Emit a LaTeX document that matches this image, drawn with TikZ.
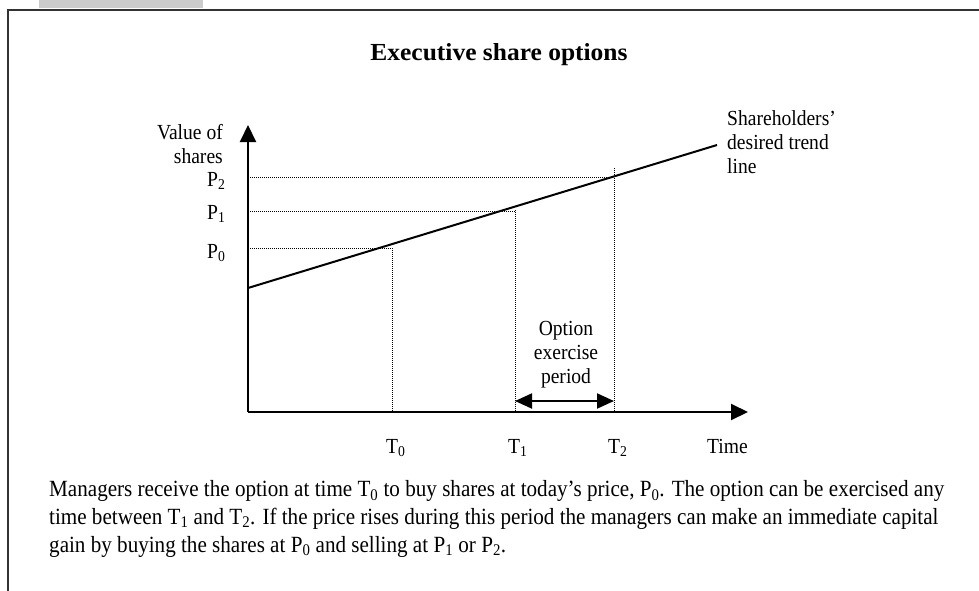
\documentclass[tikz,border=0pt]{standalone}
\usepackage{fontspec}
\setmainfont{Liberation Serif}[FakeStretch=0.91]
\newfontfamily\titlefont{Liberation Serif}[FakeStretch=1.04]
\usetikzlibrary{arrows.meta}
\begin{document}
\begin{tikzpicture}[x=1pt,y=-1pt,
  lbl/.style={inner sep=0pt, font=\fontsize{21.5}{24}\selectfont},
  axisline/.style={line width=2pt, -{Triangle[length=17pt,width=16pt]}},
  guide/.style={line width=0.8pt, dash pattern=on 0.8pt off 1.2pt},
  trendline/.style={line width=2pt},
  periodarrow/.style={line width=2pt, {Triangle[length=17pt,width=15pt]}-{Triangle[length=17pt,width=15pt]}},
  framerule/.style={line width=2pt, black!80}]

\useasboundingbox (0,0) rectangle (979,591);

% tab and frame
\fill[black!20] (39,0) rectangle (203,8.5);
\draw[framerule] (8,591) -- (8,10) -- (979,10);

% title
\node[inner sep=0pt, anchor=base, font=\titlefont\fontsize{24.5}{28}\selectfont\bfseries] (title) at (499,61) {Executive share options};

% key points
\coordinate (O) at (248,412);
\coordinate (yend) at (248,125);
\coordinate (xend) at (748,412);
\coordinate (tstart) at (248,288);
\coordinate (tend) at (717,145);

\coordinate (p0y) at (248,248);
\coordinate (p0c) at (392,248);
\coordinate (t0x) at (392,412);
\coordinate (p1y) at (248,211);
\coordinate (p1c) at (515,211);
\coordinate (t1top) at (515,210);
\coordinate (t1x) at (515,412);
\coordinate (p2y) at (248,177);
\coordinate (p2c) at (614,177);
\coordinate (t2top) at (614,168);
\coordinate (t2x) at (614,412);
\coordinate (pa) at (515,401);
\coordinate (pb) at (614,401);

% dotted guides
\draw[guide] (p0y) -- (p0c) -- (t0x);
\draw[guide] (p1y) -- (p1c);
\draw[guide] (t1top) -- (t1x);
\draw[guide] (p2y) -- (p2c);
\draw[guide] (t2top) -- (t2x);

% trend line and axes
\draw[trendline] (tstart) -- (tend);
\draw[axisline] (O) -- (yend);
\draw[axisline] (O) -- (xend);
\draw[periodarrow] (pa) -- (pb);

% axis labels (multi-line nodes sit on the baseline of their last line)
\node[lbl, align=right, anchor=base east] (vlabel) at (223,163) {Value of\\shares};
\node[lbl, anchor=base west] (P2) at (207,186) {P\textsubscript{2}};
\node[lbl, anchor=base west] (P1) at (207,219) {P\textsubscript{1}};
\node[lbl, anchor=base west] (P0) at (207,258) {P\textsubscript{0}};
\node[lbl, anchor=base west] (T0) at (386,453) {T\textsubscript{0}};
\node[lbl, anchor=base west] (T1) at (508,453) {T\textsubscript{1}};
\node[lbl, anchor=base west] (T2) at (608,453) {T\textsubscript{2}};
\node[lbl, anchor=base west] (time) at (707,453) {Time};

\node[lbl, align=left, anchor=base west] (trendlabel) at (727,173) {Shareholders'\\desired trend\\line};
\node[lbl, align=center, anchor=base] (period) at (566,383) {Option\\exercise\\period};

% explanatory note
\node[inner sep=0pt, align=left, anchor=base west, font=\fontsize{23.2}{27.8}\selectfont] (note) at (49,552)
  {Managers receive the option at time T\textsubscript{0} to buy shares at today's price, P\textsubscript{0}. The option can be exercised any\\
   time between T\textsubscript{1} and T\textsubscript{2}. If the price rises during this period the managers can make an immediate capital\\
   gain by buying the shares at P\textsubscript{0} and selling at P\textsubscript{1} or P\textsubscript{2}.};
\end{tikzpicture}
\end{document}
